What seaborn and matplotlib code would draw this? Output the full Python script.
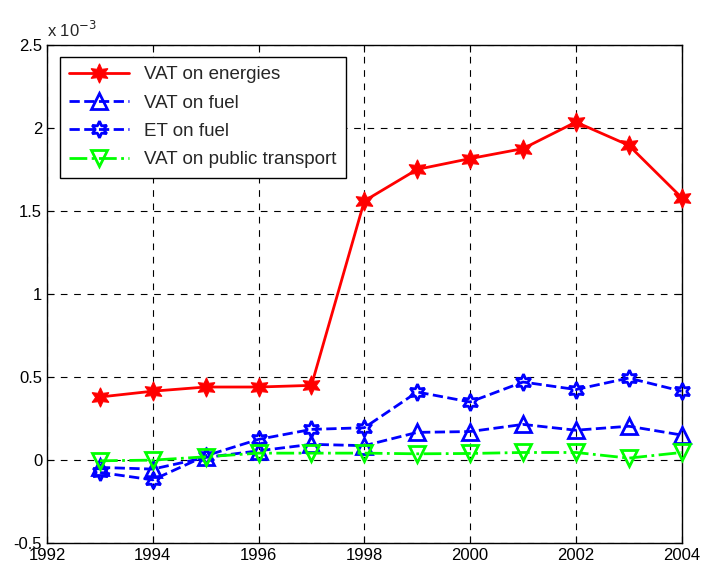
import seaborn as sns
import pandas as pd
import matplotlib.pyplot as plt

sns.set_style("white")
plt.rcParams['font.family'] = ['Liberation Sans', 'DejaVu Sans']

years = list(range(1993, 2005))
# values in units of 1e-3
vat_energies = [0.38, 0.415, 0.44, 0.44, 0.45, 1.56, 1.75, 1.815, 1.875, 2.035, 1.895, 1.58]
vat_fuel = [-0.044, -0.054, 0.016, 0.056, 0.095, 0.087, 0.167, 0.172, 0.215, 0.18, 0.204, 0.151]
et_fuel = [-0.074, -0.119, 0.026, 0.125, 0.185, 0.195, 0.41, 0.35, 0.47, 0.425, 0.494, 0.415]
vat_public = [-0.004, 0.0, 0.02, 0.042, 0.042, 0.042, 0.038, 0.04, 0.046, 0.046, 0.012, 0.046]

hexagram = (6, 1, 0)

fig = plt.figure(figsize=(7.02, 5.67), dpi=100)
ax = fig.add_axes([0.067, 0.042, 0.904, 0.879])

sns.lineplot(x=years, y=vat_energies, ax=ax, color='red', linestyle='-', linewidth=2,
             marker=hexagram, markersize=14, markerfacecolor='red', markeredgecolor='red',
             label='VAT on energies', clip_on=False, zorder=4)
sns.lineplot(x=years, y=vat_fuel, ax=ax, color='blue', linestyle='--', linewidth=2,
             marker='^', markersize=11, markerfacecolor='none', markeredgecolor='blue',
             markeredgewidth=2, label='VAT on fuel', clip_on=False, zorder=3)
sns.lineplot(x=years, y=et_fuel, ax=ax, color='blue', linestyle='--', linewidth=2,
             marker=hexagram, markersize=12, markerfacecolor='none', markeredgecolor='blue',
             markeredgewidth=2, label='ET on fuel', clip_on=False, zorder=3)
sns.lineplot(x=years, y=vat_public, ax=ax, color='#00ff00', linestyle='-.', linewidth=2,
             marker='v', markersize=11, markerfacecolor='none', markeredgecolor='#00ff00',
             markeredgewidth=2, label='VAT on public transport', clip_on=False, zorder=3)

ax.set_xlim(1992, 2004)
ax.set_ylim(-0.5, 2.5)
ax.set_xticks(range(1992, 2005, 2))
ax.set_yticks([-0.5, 0, 0.5, 1, 1.5, 2, 2.5])
ax.set_yticklabels(['-0.5', '0', '0.5', '1', '1.5', '2', '2.5'])
ax.grid(True, color='black', linestyle=(0, (6, 6)), linewidth=0.8)
for s in ax.spines.values():
    s.set_color('black')
    s.set_linewidth(1)
ax.tick_params(labelsize=12, colors='black', direction='in', length=5,
               top=True, right=True, bottom=True, left=True)
ax.text(0.0, 1.01, r'x 10$^{-3}$', transform=ax.transAxes, fontsize=12, va='bottom', ha='left')

leg = ax.legend(loc='upper left', fontsize=13.5, frameon=True, fancybox=False,
                edgecolor='black', framealpha=1, borderpad=0.5, handlelength=3.2,
                labelspacing=0.6, bbox_to_anchor=(0.005, 0.995))
leg.get_frame().set_linewidth(1)

fig.savefig('out.png', dpi=100)
